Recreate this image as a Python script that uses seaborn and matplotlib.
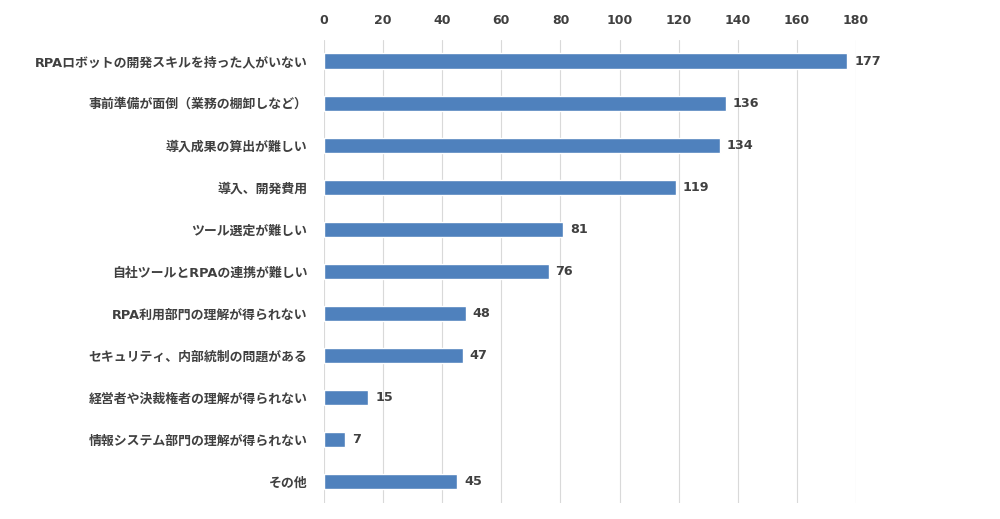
import matplotlib
matplotlib.use("Agg")
import matplotlib.pyplot as plt
import seaborn as sns
import pandas as pd

categories = [
    "RPAロボットの開発スキルを持った人がいない",
    "事前準備が面倒（業務の棚卸しなど）",
    "導入成果の算出が難しい",
    "導入、開発費用",
    "ツール選定が難しい",
    "自社ツールとRPAの連携が難しい",
    "RPA利用部門の理解が得られない",
    "セキュリティ、内部統制の問題がある",
    "経営者や決裁権者の理解が得られない",
    "情報システム部門の理解が得られない",
    "その他",
]
values = [177, 136, 134, 119, 81, 76, 48, 47, 15, 7, 45]
xticks = [0, 20, 40, 60, 80, 100, 120, 140, 160, 180]

df = pd.DataFrame({"category": categories, "value": values})

sns.set_theme(style="white")
plt.rcParams["font.family"] = ["DejaVu Sans", "Noto Sans CJK JP"]

fig = plt.figure(figsize=(10, 5.19), dpi=100)
ax = fig.add_axes([0.324, 0.031, 0.532, 0.892])

sns.barplot(data=df, x="value", y="category", color="#4F81BD", saturation=1,
            width=0.36, ax=ax, orient="h")

ax.set_xlim(0, 180)
ax.set_xticks(xticks)
ax.xaxis.tick_top()
ax.set_xlabel("")
ax.set_ylabel("")
ax.grid(axis="x", color="#D9D9D9", linewidth=0.8)
ax.set_axisbelow(True)
for s in ax.spines.values():
    s.set_visible(False)
ax.tick_params(axis="both", length=0, colors="#404040")
ax.tick_params(axis="x", pad=9, labelsize=9)
ax.tick_params(axis="y", pad=12, labelsize=9.3)
for lbl in ax.get_xticklabels() + ax.get_yticklabels():
    lbl.set_fontweight("bold")
    lbl.set_color("#404040")

for c in ax.containers:
    ax.bar_label(c, labels=[str(v) for v in values], padding=5,
                 fontsize=9.2, fontweight="bold", color="#404040", clip_on=False)

fig.savefig("out.png", dpi=100, facecolor="white")
